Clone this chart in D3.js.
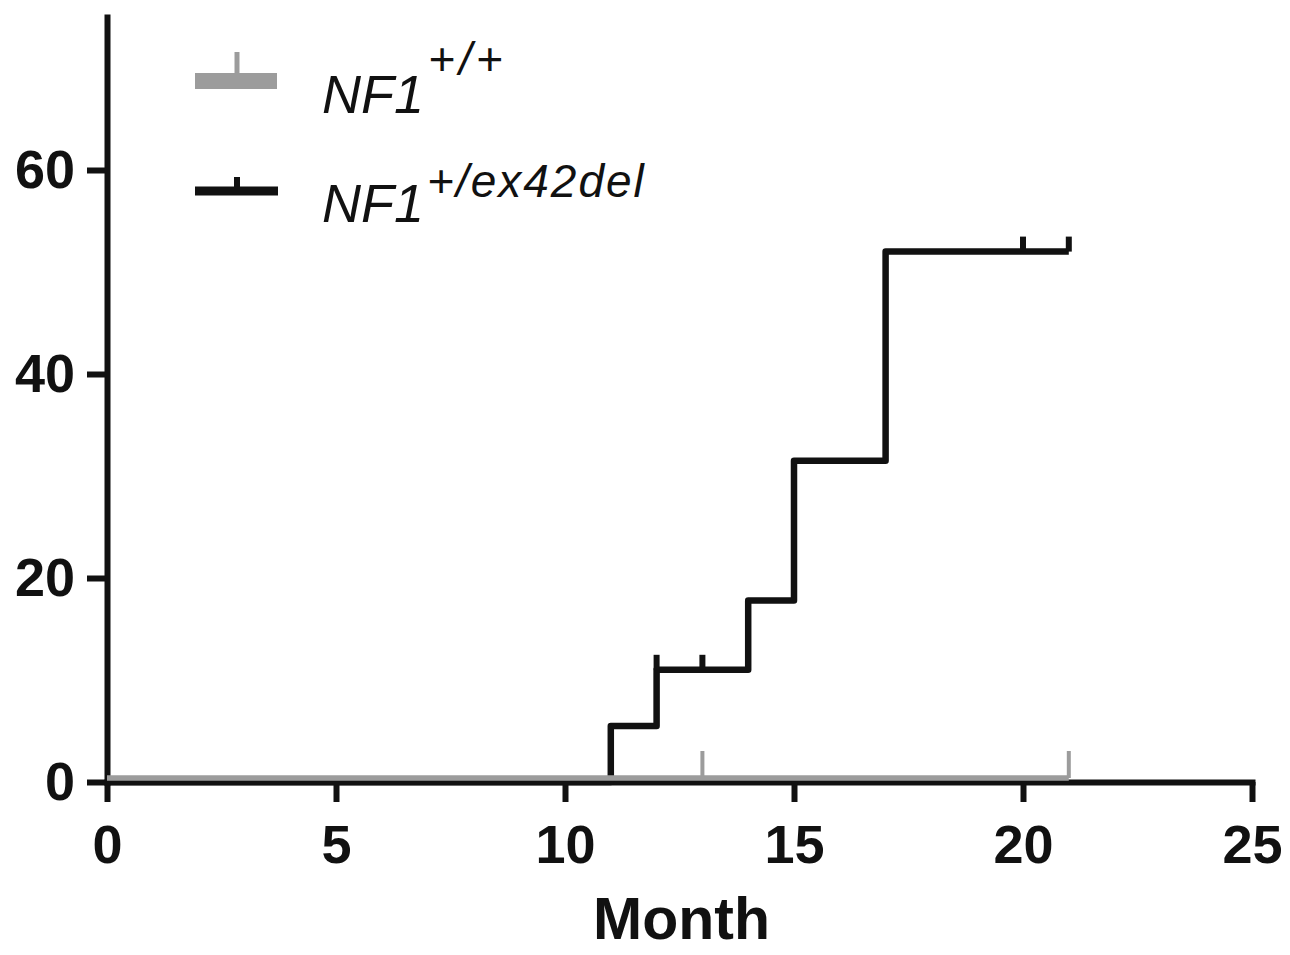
<!DOCTYPE html>
<meta charset="utf-8">
<style>
body { margin: 0; background: #fff; }
svg { display: block; }
.axis path, .axis line { stroke: #111; stroke-width: 6px; }
.axis text { font-family: "Liberation Sans", Arial, sans-serif; font-weight: bold; font-size: 54px; fill: #111; }
.legend text { font-family: "Liberation Sans", Arial, sans-serif; font-style: italic; fill: #111; }
</style>
<svg width="1290" height="955"></svg>
<script src="https://cdn.jsdelivr.net/npm/d3@7"></script>
<script>

// NF1+/ex42del : step curve (month, value)
var mutMonths = [0, 11, 12, 14, 15, 17, 21];
var mutValues = [0, 5.5, 11, 17.8, 31.5, 52, 52];
var mutCensorMonths = [12, 13, 20, 21];
var mutCensorValues = [11, 11, 52, 52];

// NF1+/+ : flat at zero
var wtMonths = [0, 21];
var wtValues = [0, 0];
var wtCensorMonths = [13, 21];
var wtCensorValues = [0, 0];

var xTicks = [0, 5, 10, 15, 20, 25];
var yTicks = [0, 20, 40, 60];

var black = "#111";
var gray = "#9c9c9c";

var svg = d3.select("svg");

var x = d3.scaleLinear().domain([0, 25]).range([107, 1252]);
var y = d3.scaleLinear().domain([0, 75]).range([782, 17]);

var line = d3.line()
    .x(function(d) { return x(d[0]); })
    .y(function(d) { return y(d[1]); })
    .curve(d3.curveStepAfter);

// axes
svg.append("g")
    .attr("class", "axis")
    .attr("transform", "translate(0," + y(0) + ")")
    .call(d3.axisBottom(x).tickValues(xTicks).tickSize(20).tickSizeOuter(0).tickPadding(23));

svg.append("g")
    .attr("class", "axis")
    .attr("transform", "translate(" + x(0) + ",0)")
    .call(d3.axisLeft(y).tickValues(yTicks).tickSize(20).tickSizeOuter(0).tickPadding(12));

svg.selectAll(".axis path").attr("stroke-linecap", "square");

svg.append("text")
    .attr("x", (x(0) + x(25)) / 2 + 2)
    .attr("y", 939)
    .attr("text-anchor", "middle")
    .style("font-family", "'Liberation Sans', Arial, sans-serif")
    .style("font-weight", "bold")
    .style("font-size", "59px")
    .style("fill", black)
    .text("Month");

// NF1+/ex42del
var mut = d3.zip(mutMonths, mutValues);
svg.append("path")
    .datum(mut)
    .attr("d", line)
    .attr("fill", "none")
    .attr("stroke", black)
    .attr("stroke-width", 6.5)
    .attr("stroke-linejoin", "round");

svg.append("g").selectAll("line")
    .data(d3.zip(mutCensorMonths, mutCensorValues))
    .enter().append("line")
      .attr("x1", function(d) { return x(d[0]); })
      .attr("x2", function(d) { return x(d[0]); })
      .attr("y1", function(d) { return y(d[1]); })
      .attr("y2", function(d) { return y(d[1]) - 15; })
      .attr("stroke", black)
      .attr("stroke-width", 6);

// NF1+/+ (sits just above the axis line)
var wt = svg.append("g").attr("transform", "translate(0,-4)");
wt.append("path")
    .datum(d3.zip(wtMonths, wtValues))
    .attr("d", line)
    .attr("fill", "none")
    .attr("stroke", gray)
    .attr("stroke-width", 5.5);

wt.selectAll("line")
    .data(d3.zip(wtCensorMonths, wtCensorValues))
    .enter().append("line")
      .attr("x1", function(d) { return x(d[0]); })
      .attr("x2", function(d) { return x(d[0]); })
      .attr("y1", function(d) { return y(d[1]); })
      .attr("y2", function(d) { return y(d[1]) - 27; })
      .attr("stroke", gray)
      .attr("stroke-width", 4);

// legend
var legend = svg.append("g").attr("class", "legend");

legend.append("line")
    .attr("x1", 195).attr("x2", 277).attr("y1", 81).attr("y2", 81)
    .attr("stroke", gray).attr("stroke-width", 16);
legend.append("line")
    .attr("x1", 237).attr("x2", 237).attr("y1", 73).attr("y2", 52)
    .attr("stroke", gray).attr("stroke-width", 5);

legend.append("line")
    .attr("x1", 195).attr("x2", 278).attr("y1", 191).attr("y2", 191)
    .attr("stroke", black).attr("stroke-width", 9);
legend.append("line")
    .attr("x1", 237).attr("x2", 237).attr("y1", 187).attr("y2", 177)
    .attr("stroke", black).attr("stroke-width", 6);

var t1 = legend.append("text").attr("x", 322).attr("y", 113);
t1.append("tspan").style("font-size", "54px").text("NF1");
t1.append("tspan").style("font-size", "46px").style("letter-spacing", "4px")
    .attr("dy", -38).attr("dx", 4).text("+/+");

var t2 = legend.append("text").attr("x", 322).attr("y", 222);
t2.append("tspan").style("font-size", "54px").text("NF1");
t2.append("tspan").style("font-size", "46px").style("letter-spacing", "2px")
    .attr("dy", -25).attr("dx", 3).text("+/ex42del");

</script>
